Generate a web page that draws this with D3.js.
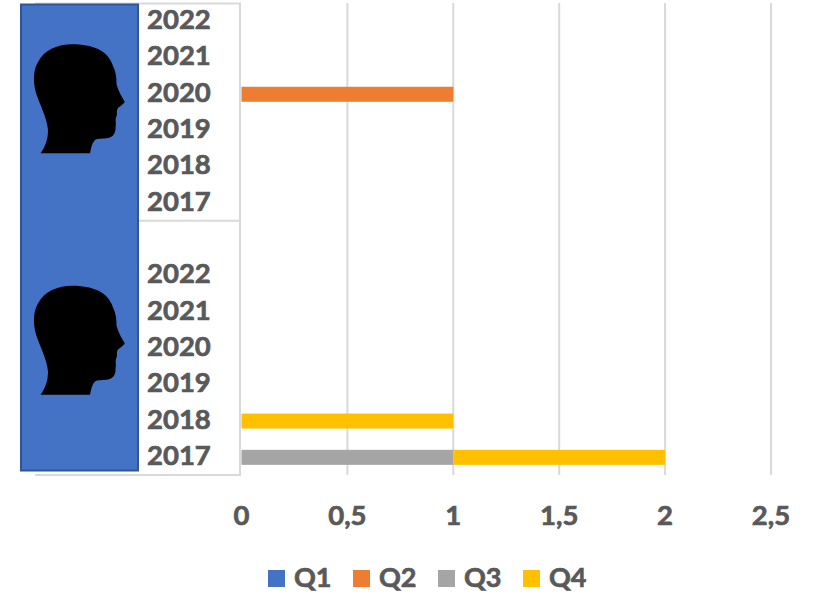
<!DOCTYPE html>
<html><head><meta charset="utf-8">
<script src="https://cdn.jsdelivr.net/npm/d3@7"></script>
<style>html,body{margin:0;padding:0;background:#fff}svg{display:block}
text{font-family:Lato,"Open Sans",sans-serif;font-weight:700;fill:#595959;stroke:#595959;stroke-width:0.7px}</style></head>
<body><script>
const years = ["2022","2021","2020","2019","2018","2017"];
const groups = ["A","B"];
const seriesNames = ["Q1","Q2","Q3","Q4"];
const colors = ["#4472C4","#ED7D31","#A5A5A5","#FFC000"];
// order: group A 2022..2017, group B 2022..2017
const Q1 = [0,0,0,0,0,0, 0,0,0,0,0,0];
const Q2 = [0,0,1,0,0,0, 0,0,0,0,0,0];
const Q3 = [0,0,0,0,0,0, 0,0,0,0,0,1];
const Q4 = [0,0,0,0,0,0, 0,0,0,0,1,1];
const xTicks = [0,0.5,1,1.5,2,2.5];

const W=820,H=594;
const svg=d3.select("body").append("svg").attr("width",W).attr("height",H);
const x=d3.scaleLinear().domain([0,2.5]).range([241.5,771]);
const rowKeys=[...years.map(y=>"A"+y),"gap",...years.map(y=>"B"+y)];
const y=d3.scaleBand().domain(rowKeys).range([3,475]);
const keys=groups.flatMap(g=>years.map(v=>g+v));
const table=keys.map((k,i)=>({k,Q1:Q1[i],Q2:Q2[i],Q3:Q3[i],Q4:Q4[i]}));
const grey="#d9d9d9";

// gridlines
svg.append("g").selectAll("line").data(xTicks.slice(1)).join("line")
  .attr("x1",d=>x(d)).attr("x2",d=>x(d)).attr("y1",3).attr("y2",475)
  .attr("stroke",grey).attr("stroke-width",2);

// category axis frame
const frame=svg.append("g").attr("stroke",grey).attr("stroke-width",2);
const sepY=y("gap");
frame.append("line").attr("x1",35).attr("x2",241).attr("y1",3.5).attr("y2",3.5);
frame.append("line").attr("x1",35).attr("x2",241).attr("y1",475).attr("y2",475);
frame.append("line").attr("x1",139).attr("x2",241).attr("y1",sepY).attr("y2",sepY);
frame.append("line").attr("x1",240).attr("x2",240).attr("y1",3).attr("y2",476);

// bars
const stack=d3.stack().keys(seriesNames)(table);
svg.append("g").selectAll("g").data(stack).join("g")
  .attr("fill",(d,i)=>colors[i])
  .selectAll("rect").data(d=>d.filter(p=>p[1]>p[0])).join("rect")
  .attr("x",d=>x(d[0])).attr("width",d=>x(d[1])-x(d[0]))
  .attr("y",d=>y(d.data.k)+y.bandwidth()/2-7).attr("height",15);

// blue panel with head pictures
svg.append("rect").attr("x",21).attr("y",4.5).attr("width",117).attr("height",466)
  .attr("fill","#4472C4").attr("stroke","#2F5597").attr("stroke-width",2);
const headPath="M72 44.3C92 44.3 108 50 113 66C116 72 116.5 78 116.5 84C118 91 122 97 124.8 102C123 105 118 107 117.5 109C116 112 118 115 116 117C115 120 116.5 124 115.5 127C116 133 113 137 108 138C103 139 97 138 95 140C92 143 91 148 90 153.3L40.5 153.3C45 147 48 140 48 130C47 118 40 105 36 93C33 82 33 70 38 62C44 50 58 44.3 72 44.3Z";
svg.append("g").selectAll("path").data([0,241.5]).join("path")
  .attr("d",headPath).attr("fill","#000").attr("transform",d=>`translate(0,${d})`);

// labels
svg.append("g").selectAll("text").data(keys).join("text")
  .attr("x",147).attr("y",k=>y(k)+y.bandwidth()/2-2.5)
  .attr("dominant-baseline","central").attr("font-size",27.5)
  .text(k=>k.slice(1));
svg.append("g").selectAll("text").data(xTicks).join("text")
  .attr("x",d=>x(d)).attr("y",525).attr("text-anchor","middle").attr("font-size",27.5)
  .text(d=>String(d).replace(".",","));

// legend
const lg=svg.append("g").selectAll("g").data(seriesNames).join("g")
  .attr("transform",(d,i)=>`translate(${268+i*85},0)`);
lg.append("rect").attr("x",0).attr("y",570).attr("width",17).attr("height",17).attr("fill",(d,i)=>colors[i]);
lg.append("text").attr("x",26).attr("y",587).attr("font-size",27).text(d=>d);
</script></body></html>
